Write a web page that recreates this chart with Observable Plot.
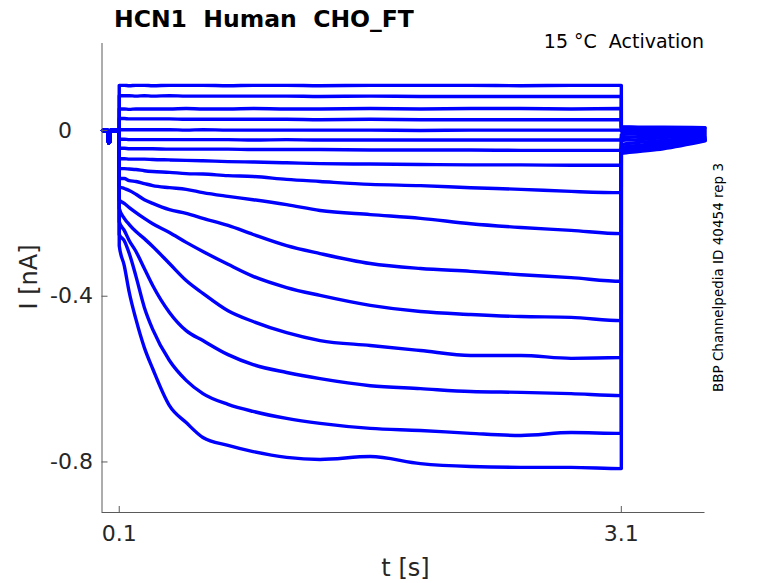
<!DOCTYPE html>
<html><head><meta charset="utf-8">
<script src="https://cdn.jsdelivr.net/npm/d3@7"></script>
<script src="https://cdn.jsdelivr.net/npm/@observablehq/plot@0.6"></script>
<style>body{margin:0;background:#fff} svg text{white-space:pre}</style>
</head><body><div id="chart"></div>
<script>
// ---- time bases (s) ----
const preT  = [0, 0.033, 0.036, 0.043, 0.046, 0.1];
const preI  = [0, 0, -0.030, -0.028, 0, 0];
const stepT = [0.1, 0.13, 0.16, 0.2, 0.25, 0.3, 0.4, 0.5, 0.6, 0.75, 0.9, 1.1, 1.3, 1.6, 1.9, 2.2, 2.5, 2.8, 3.1];
const tailT = [3.1, 3.2, 3.35, 3.6];

// ---- currents during the activation step (nA), one array per sweep ----
const s01 = [0.109,0.109,0.108,0.109,0.109,0.108,0.109,0.109,0.109,0.108,0.109,0.109,0.108,0.109,0.109,0.109,0.108,0.109,0.109];
const s02 = [0.084,0.084,0.084,0.083,0.084,0.083,0.084,0.083,0.083,0.083,0.083,0.083,0.082,0.083,0.082,0.082,0.082,0.082,0.082];
const s03 = [0.052,0.052,0.051,0.052,0.052,0.052,0.052,0.053,0.052,0.052,0.053,0.052,0.052,0.053,0.052,0.053,0.053,0.052,0.053];
const s04 = [0.029,0.029,0.028,0.028,0.028,0.028,0.028,0.027,0.027,0.027,0.027,0.027,0.026,0.027,0.026,0.026,0.026,0.026,0.026];
const s05 = [0.002,0.002,0.002,0.002,0.002,0.002,0.002,0.001,0.002,0.001,0.001,0.001,0.001,0.001,0.000,0.001,0.001,0.001,0.001];
const s06 = [-0.021,-0.021,-0.022,-0.022,-0.022,-0.022,-0.022,-0.022,-0.022,-0.022,-0.023,-0.022,-0.023,-0.023,-0.023,-0.023,-0.023,-0.023,-0.023];
const s07 = [-0.043,-0.043,-0.044,-0.044,-0.044,-0.044,-0.045,-0.045,-0.045,-0.045,-0.046,-0.046,-0.046,-0.047,-0.047,-0.047,-0.048,-0.048,-0.048];
const s08 = [-0.068,-0.068,-0.069,-0.069,-0.069,-0.070,-0.071,-0.072,-0.073,-0.075,-0.076,-0.078,-0.080,-0.081,-0.082,-0.083,-0.083,-0.084,-0.084];
const s09 = [-0.092,-0.092,-0.093,-0.094,-0.097,-0.099,-0.101,-0.104,-0.105,-0.109,-0.111,-0.118,-0.123,-0.130,-0.133,-0.138,-0.142,-0.147,-0.150];
const s10 = [-0.116,-0.116,-0.121,-0.123,-0.128,-0.133,-0.138,-0.142,-0.150,-0.159,-0.167,-0.179,-0.193,-0.203,-0.212,-0.225,-0.234,-0.241,-0.249];
const s11 = [-0.135,-0.140,-0.145,-0.154,-0.167,-0.176,-0.191,-0.200,-0.212,-0.229,-0.251,-0.278,-0.297,-0.321,-0.333,-0.340,-0.348,-0.355,-0.364];
const s12 = [-0.167,-0.176,-0.186,-0.198,-0.212,-0.225,-0.246,-0.270,-0.292,-0.323,-0.352,-0.379,-0.398,-0.422,-0.437,-0.444,-0.449,-0.451,-0.459];
const s13 = [-0.188,-0.212,-0.227,-0.244,-0.261,-0.280,-0.321,-0.362,-0.393,-0.435,-0.461,-0.488,-0.507,-0.519,-0.531,-0.543,-0.543,-0.550,-0.548];
const s14 = [-0.220,-0.241,-0.266,-0.292,-0.333,-0.374,-0.439,-0.483,-0.507,-0.541,-0.565,-0.584,-0.599,-0.616,-0.623,-0.630,-0.632,-0.635,-0.640];
const s15 = [-0.251,-0.266,-0.297,-0.352,-0.427,-0.480,-0.555,-0.603,-0.635,-0.661,-0.678,-0.695,-0.707,-0.719,-0.724,-0.731,-0.736,-0.729,-0.731];
const s16 = [-0.278,-0.326,-0.391,-0.456,-0.524,-0.575,-0.664,-0.705,-0.741,-0.760,-0.775,-0.789,-0.794,-0.787,-0.804,-0.811,-0.813,-0.813,-0.816];

// ---- deactivation tails after the step (nA) ----
const t01 = [0.009,0.008,0.008,0.007];
const t02 = [0.008,0.007,0.007,0.006];
const t03 = [0.005,0.004,0.003,0.003];
const t04 = [0.002,0.001,0.000,0.000];
const t05 = [-0.002,-0.002,-0.003,-0.003];
const t06 = [-0.010,-0.008,-0.007,-0.006];
const t07 = [-0.017,-0.015,-0.012,-0.009];
const t08 = [-0.024,-0.022,-0.017,-0.012];
const t09 = [-0.034,-0.029,-0.024,-0.015];
const t10 = [-0.041,-0.036,-0.029,-0.017];
const t11 = [-0.046,-0.041,-0.034,-0.019];
const t12 = [-0.048,-0.043,-0.036,-0.021];
const t13 = [-0.051,-0.046,-0.039,-0.022];
const t14 = [-0.053,-0.048,-0.041,-0.023];
const t15 = [-0.053,-0.049,-0.042,-0.024];
const t16 = [-0.056,-0.051,-0.044,-0.025];

const xDomain = [-0.003, 3.6];
const yDomain = [-0.922, 0.21];
const xTicks = [0.1, 3.1];
const yTicks = [0, -0.4, -0.8];
const titleText = "HCN1  Human  CHO_FT";
const subtitleText = "15 °C  Activation";
const sideText = "BBP Channelpedia ID 40454 rep 3";
const xLabel = "t [s]";
const yLabel = "I [nA]";

const steps = [s01,s02,s03,s04,s05,s06,s07,s08,s09,s10,s11,s12,s13,s14,s15,s16];
const tails = [t01,t02,t03,t04,t05,t06,t07,t08,t09,t10,t11,t12,t13,t14,t15,t16];

const rows = [];
steps.forEach((s, k) => {
  preT.forEach((t, i) => rows.push({sweep: k, t, I: preI[i]}));
  stepT.forEach((t, i) => rows.push({sweep: k, t, I: s[i]}));
  tailT.forEach((t, i) => rows.push({sweep: k, t, I: tails[k][i]}));
});

const W = 778, H = 583, mL = 101.5, mR = 73.5, mT = 43, mB = 71;
const frameW = W - mL - mR, frameH = H - mT - mB;
const axisColor = "#5a5a5a", textColor = "#262626";

const svg = Plot.plot({
  width: W, height: H,
  marginLeft: mL, marginRight: mR, marginTop: mT, marginBottom: mB,
  style: {fontFamily: "DejaVu Sans", fontSize: "22px", background: "#fff"},
  x: {domain: xDomain},
  y: {domain: yDomain},
  marks: [
    Plot.line(rows, {x: "t", y: "I", z: "sweep", stroke: "#0000ff", strokeWidth: 3.4, strokeLinejoin: "round", curve: "monotone-x"}),
    Plot.ruleX([xDomain[0]], {stroke: axisColor}),
    Plot.ruleY([yDomain[0]], {stroke: axisColor}),
    Plot.axisX({ticks: xTicks, tickSize: 0, tickPadding: 13, label: null, fill: textColor, tickFormat: d => String(d)}),
    Plot.axisY({ticks: yTicks, tickSize: 0, tickPadding: 9, label: null, fill: textColor, tickFormat: d => d === 0 ? "0\u2007\u2008" : String(d)}),
    Plot.ruleX(xTicks, {x: d => d, stroke: axisColor, insetTop: frameH - 6}),
    Plot.ruleY(yTicks, {y: d => d, stroke: axisColor, insetRight: frameW - 6})
  ]
});

const s = d3.select(svg);
s.append("text").text(titleText)
  .attr("x", 114).attr("y", 27).attr("text-anchor", "start").attr("font-size", 23.5).attr("font-weight", "bold").attr("fill", "#000");
s.append("text").text(subtitleText)
  .attr("x", 704).attr("y", 47.5).attr("text-anchor", "end").attr("font-size", 19).attr("fill", "#000");
s.append("text").text(xLabel)
  .attr("x", 405.5).attr("y", 576).attr("text-anchor", "middle").attr("font-size", 24).attr("fill", textColor);
s.append("text").text(yLabel)
  .attr("transform", "translate(37,277) rotate(-90)").attr("text-anchor", "middle").attr("font-size", 24).attr("fill", textColor);
s.append("text").text(sideText)
  .attr("transform", "translate(723.3,277.5) rotate(-90)").attr("text-anchor", "middle").attr("font-size", 13.5).attr("fill", "#000");

document.getElementById("chart").appendChild(svg);
</script>
</body></html>
